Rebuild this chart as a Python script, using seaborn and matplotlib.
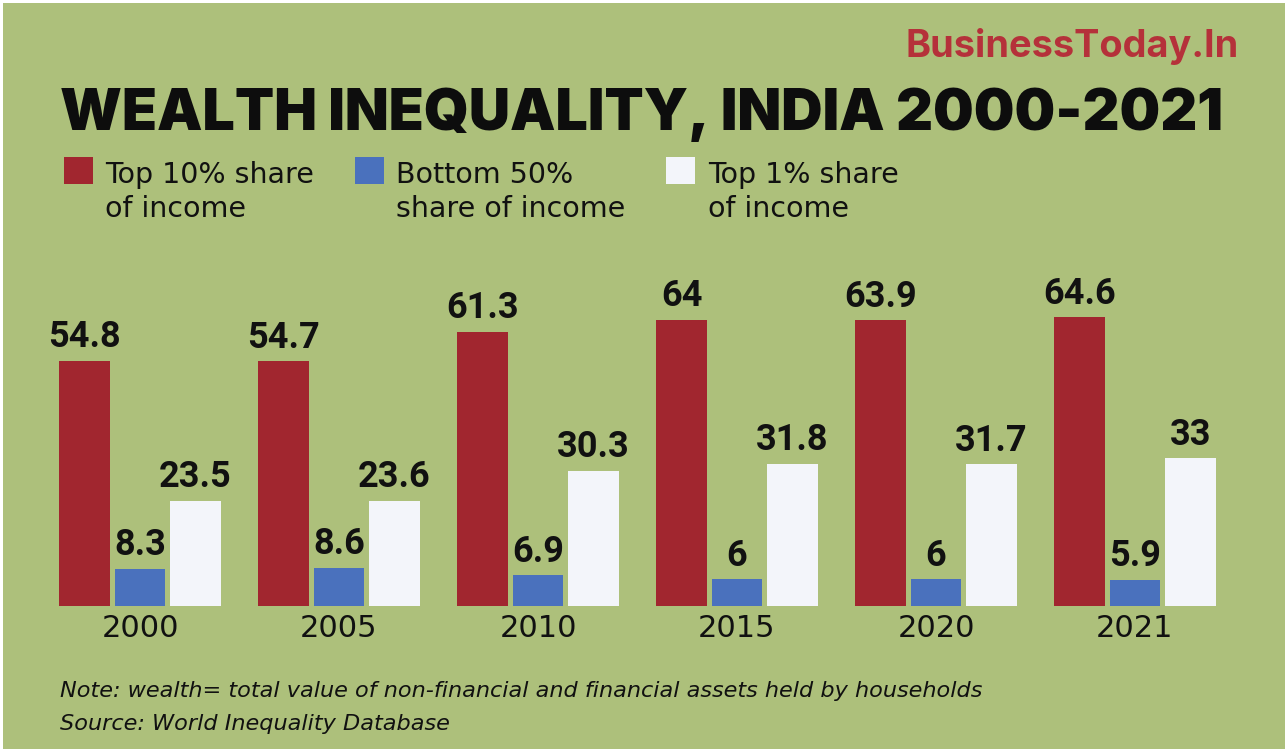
import numpy as np
import pandas as pd
import matplotlib
matplotlib.use("Agg")
import matplotlib.pyplot as plt
from matplotlib import font_manager
from matplotlib.patches import Rectangle
import seaborn as sns

# ---------------- data ----------------
years = ["2000", "2005", "2010", "2015", "2020", "2021"]
series_names = ["Top 10% share of income", "Bottom 50% share of income", "Top 1% share of income"]
top10 = [54.8, 54.7, 61.3, 64, 63.9, 64.6]
bottom50 = [8.3, 8.6, 6.9, 6, 6, 5.9]
top1 = [23.5, 23.6, 30.3, 31.8, 31.7, 33]
legend_lines = [["Top 10% share", "of income"],
                ["Bottom 50%", "share of income"],
                ["Top 1% share", "of income"]]

title = "WEALTH INEQUALITY, INDIA 2000-2021"
brand = "BusinessToday.In"
note = "Note: wealth= total value of non-financial and financial assets held by households"
source = "Source: World Inequality Database"

colors = ["#a1262f", "#4a71bd", "#f3f5fa"]
bg = "#adc07b"

df = pd.DataFrame({
    "year": years * 3,
    "series": [series_names[0]] * 6 + [series_names[1]] * 6 + [series_names[2]] * 6,
    "value": top10 + bottom50 + top1,
})

# ---------------- fonts ----------------
def has_font(name):
    try:
        font_manager.findfont(font_manager.FontProperties(family=name), fallback_to_default=False)
        return True
    except Exception:
        return False

narrow = "Liberation Sans Narrow" if has_font("Liberation Sans Narrow") else ("Roboto" if has_font("Roboto") else "DejaVu Sans")
heavy = "Inter" if has_font("Inter") else "DejaVu Sans"

sns.set_theme(style="white")
plt.rcParams["font.family"] = ["DejaVu Sans"]

W, H = 1287, 753
fig = plt.figure(figsize=(W / 100, H / 100), dpi=100)
fig.patch.set_facecolor("white")
fig.patches.append(Rectangle((3 / W, 4 / H), (1285 - 3) / W, (749 - 3) / H,
                             transform=fig.transFigure, facecolor=bg, edgecolor="none", zorder=-10))

def fy(py):
    return 1 - py / H

def fx(px):
    return px / W

# ---------------- bars ----------------
base_px, top_px = 606, 270
ax = fig.add_axes([0, (H - base_px) / H, 1, (base_px - top_px) / H])
ax.set_facecolor("none")
ax.set_zorder(5)
sns.barplot(data=df, x="year", y="value", hue="series", hue_order=series_names,
            palette=colors, saturation=1, width=0.834, gap=0.08, ax=ax, legend=False,
            linewidth=0, edgecolor="none")
px_per_unit = 4.47
ax.set_ylim(0, (base_px - top_px) / px_per_unit)
ax.set_xlim(-140 / 199, (W - 140) / 199)
for s in ax.spines.values():
    s.set_visible(False)
ax.set_yticks([])
ax.set_xlabel("")
ax.set_ylabel("")
ax.tick_params(axis="x", length=0, pad=6, labelsize=22, labelcolor="#111111")
for c in ax.containers:
    ax.bar_label(c, labels=[f"{v:g}" for v in c.datavalues], padding=4,
                 fontsize=26, fontweight="bold", family=[narrow, "DejaVu Sans"], color="#111111")

# ---------------- texts ----------------
renderer = fig.canvas.get_renderer()

def fit_text(x, y, s, target_w, **kw):
    t = fig.text(x, y, s, **kw)
    w = t.get_window_extent(renderer=renderer).width
    t.set_fontsize(t.get_fontsize() * target_w / w)
    return t

fit_text(fx(906), fy(57), brand, 1240 - 906, fontsize=24, fontweight="bold",
         color="#b5313a", va="baseline", ha="left", family=[heavy, "DejaVu Sans"])
fit_text(fx(60), fy(130), title, 1226 - 60, fontsize=36, fontweight=900,
         color="#0d0d0d", va="baseline", ha="left", family=[heavy, "DejaVu Sans"])

sq_x = [64, 355, 666]
tx_x = [105, 396, 708]
for i in range(3):
    fig.patches.append(Rectangle((fx(sq_x[i]), fy(184)), 29 / W, 27 / H, transform=fig.transFigure,
                                 facecolor=colors[i], edgecolor="none", zorder=2))
    fig.text(fx(tx_x[i]), fy(183), legend_lines[i][0], fontsize=20.5, color="#111111",
             va="baseline", ha="left")
    fig.text(fx(tx_x[i]), fy(217), legend_lines[i][1], fontsize=20.5, color="#111111",
             va="baseline", ha="left")

fit_text(fx(60), fy(697), note, 985 - 60, fontsize=15, style="italic",
         color="#111111", va="baseline", ha="left")
fig.text(fx(60), fy(730), source, fontsize=fig.texts[-1].get_fontsize(), style="italic",
         color="#111111", va="baseline", ha="left")

fig.savefig("out.png", dpi=100, facecolor=fig.get_facecolor())
